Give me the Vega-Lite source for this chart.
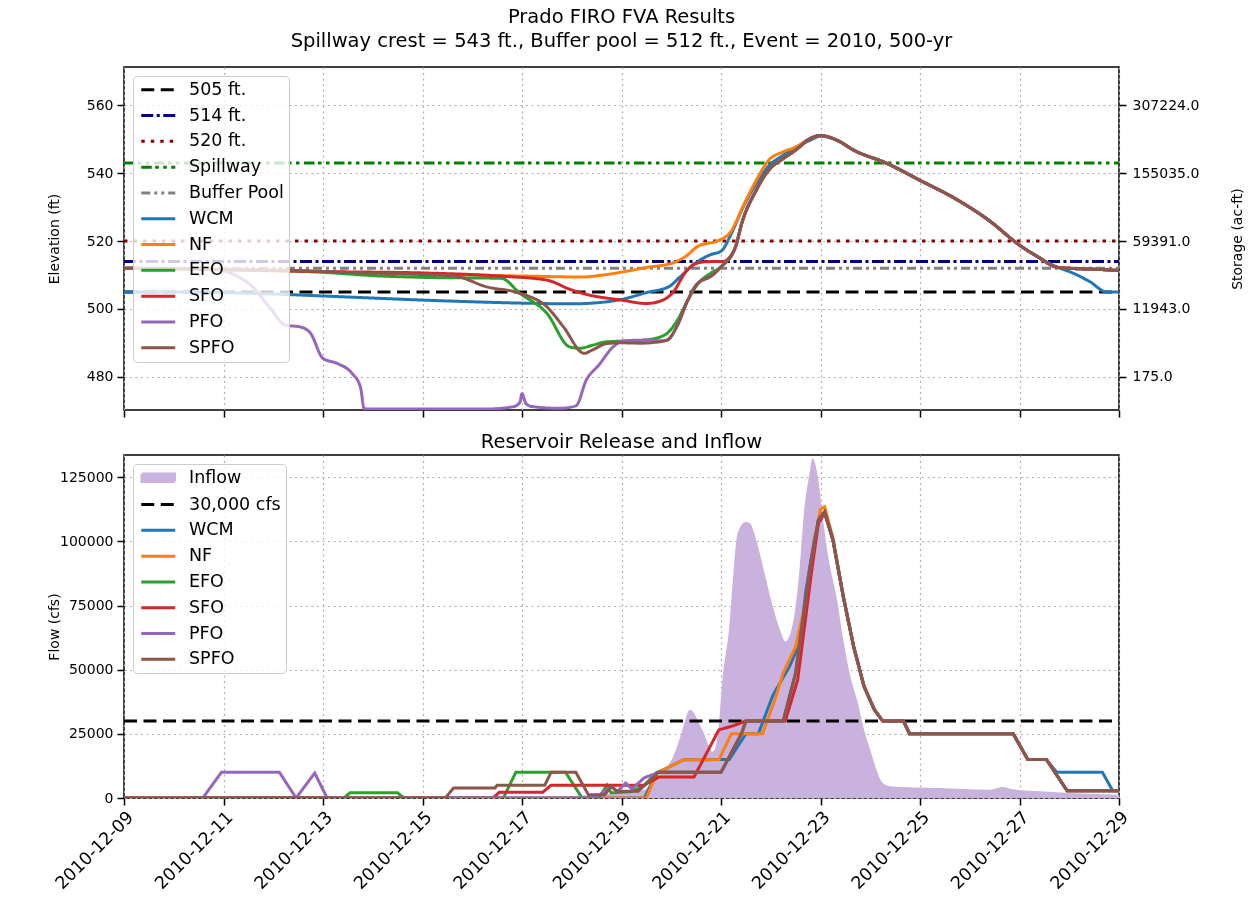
{
  "$schema": "https://vega.github.io/schema/vega-lite/v6.json",
  "background": "white",
  "padding": {"left": 46, "top": 5, "right": 5, "bottom": 5},
  "spacing": 11,
  "config": {
    "font": "DejaVu Sans",
    "view": {"stroke": "#000000", "strokeWidth": 1.5},
    "axis": {"labelFont": "DejaVu Sans", "titleFont": "DejaVu Sans", "labelFontSize": 14, "titleFontSize": 14, "titleFontWeight": "normal", "labelColor": "#000000", "titleColor": "#000000", "tickColor": "#000000", "tickSize": 7, "tickWidth": 1.5, "labelPadding": 4, "domain": false, "gridColor": "#b0b0b0", "gridDash": [2, 3.5], "gridWidth": 1.2},
    "title": {"font": "DejaVu Sans", "fontSize": 19.5, "fontWeight": "normal", "color": "#000000"},
    "legend": {"orient": "top-left", "offset": 9, "padding": 5, "fillColor": "rgba(255,255,255,0.8)", "strokeColor": "#cccccc", "cornerRadius": 4, "labelFont": "DejaVu Sans", "labelFontSize": 17.5, "labelColor": "#000000", "symbolType": "M-3.4,0H3.4", "symbolSize": 100, "symbolStrokeWidth": 3, "symbolOffset": 11.5, "labelOffset": 22, "rowPadding": 6.8}
  },
  "resolve": {"scale": {"color": "independent", "strokeDash": "independent"}, "legend": {"color": "independent", "strokeDash": "independent"}},
  "datasets": {
    "elev": [
      {"series": "505 ft.", "t": "2010-12-09T00:00", "v": 505}, {"series": "505 ft.", "t": "2010-12-29T00:00", "v": 505},
      {"series": "514 ft.", "t": "2010-12-09T00:00", "v": 514}, {"series": "514 ft.", "t": "2010-12-29T00:00", "v": 514},
      {"series": "520 ft.", "t": "2010-12-09T00:00", "v": 520}, {"series": "520 ft.", "t": "2010-12-29T00:00", "v": 520},
      {"series": "Spillway", "t": "2010-12-09T00:00", "v": 543}, {"series": "Spillway", "t": "2010-12-29T00:00", "v": 543},
      {"series": "Buffer Pool", "t": "2010-12-09T00:00", "v": 512}, {"series": "Buffer Pool", "t": "2010-12-29T00:00", "v": 512},

      {"series": "WCM", "t": "2010-12-09T00:00", "v": 505.0},
      {"series": "WCM", "t": "2010-12-10T00:00", "v": 505.0},
      {"series": "WCM", "t": "2010-12-11T00:00", "v": 504.8},
      {"series": "WCM", "t": "2010-12-12T00:00", "v": 504.4},
      {"series": "WCM", "t": "2010-12-13T00:00", "v": 503.8},
      {"series": "WCM", "t": "2010-12-14T00:00", "v": 503.2},
      {"series": "WCM", "t": "2010-12-15T00:00", "v": 502.6},
      {"series": "WCM", "t": "2010-12-16T00:00", "v": 502.1},
      {"series": "WCM", "t": "2010-12-17T00:00", "v": 501.7},
      {"series": "WCM", "t": "2010-12-18T00:00", "v": 501.5},
      {"series": "WCM", "t": "2010-12-18T12:00", "v": 501.8},
      {"series": "WCM", "t": "2010-12-19T00:00", "v": 502.8},
      {"series": "WCM", "t": "2010-12-19T12:00", "v": 504.8},
      {"series": "WCM", "t": "2010-12-19T23:00", "v": 506.6},
      {"series": "WCM", "t": "2010-12-20T04:00", "v": 509.3},
      {"series": "WCM", "t": "2010-12-20T11:00", "v": 513.2},
      {"series": "WCM", "t": "2010-12-20T19:00", "v": 516.0},
      {"series": "WCM", "t": "2010-12-21T00:00", "v": 517.0},
      {"series": "WCM", "t": "2010-12-21T05:00", "v": 522.2},
      {"series": "WCM", "t": "2010-12-21T10:00", "v": 529.1},
      {"series": "WCM", "t": "2010-12-21T17:00", "v": 537.0},
      {"series": "WCM", "t": "2010-12-21T23:00", "v": 542.1},
      {"series": "WCM", "t": "2010-12-22T06:00", "v": 545.3},
      {"series": "WCM", "t": "2010-12-22T12:00", "v": 547.6},
      {"series": "WCM", "t": "2010-12-22T19:00", "v": 549.7},
      {"series": "WCM", "t": "2010-12-23T00:00", "v": 550.9},
      {"series": "WCM", "t": "2010-12-23T08:00", "v": 549.7},
      {"series": "WCM", "t": "2010-12-23T16:00", "v": 546.8},
      {"series": "WCM", "t": "2010-12-24T08:00", "v": 542.9},
      {"series": "WCM", "t": "2010-12-25T00:00", "v": 537.9},
      {"series": "WCM", "t": "2010-12-25T17:00", "v": 532.5},
      {"series": "WCM", "t": "2010-12-26T09:00", "v": 526.2},
      {"series": "WCM", "t": "2010-12-27T00:00", "v": 518.8},
      {"series": "WCM", "t": "2010-12-27T09:00", "v": 515.3},
      {"series": "WCM", "t": "2010-12-27T18:00", "v": 512.4},
      {"series": "WCM", "t": "2010-12-28T02:00", "v": 510.5},
      {"series": "WCM", "t": "2010-12-28T10:00", "v": 508.0},
      {"series": "WCM", "t": "2010-12-28T18:00", "v": 505.0},
      {"series": "WCM", "t": "2010-12-29T00:00", "v": 505.0},

      {"series": "NF", "t": "2010-12-09T00:00", "v": 512.0},
      {"series": "NF", "t": "2010-12-11T00:00", "v": 511.5},
      {"series": "NF", "t": "2010-12-13T00:00", "v": 510.9},
      {"series": "NF", "t": "2010-12-15T00:00", "v": 510.3},
      {"series": "NF", "t": "2010-12-17T00:00", "v": 509.7},
      {"series": "NF", "t": "2010-12-18T05:00", "v": 509.4},
      {"series": "NF", "t": "2010-12-18T14:00", "v": 509.9},
      {"series": "NF", "t": "2010-12-19T06:00", "v": 511.5},
      {"series": "NF", "t": "2010-12-19T12:00", "v": 512.2},
      {"series": "NF", "t": "2010-12-20T01:00", "v": 513.6},
      {"series": "NF", "t": "2010-12-20T07:00", "v": 515.5},
      {"series": "NF", "t": "2010-12-20T13:00", "v": 518.5},
      {"series": "NF", "t": "2010-12-20T23:00", "v": 520.2},
      {"series": "NF", "t": "2010-12-21T04:00", "v": 522.2},
      {"series": "NF", "t": "2010-12-21T12:00", "v": 532.0},
      {"series": "NF", "t": "2010-12-21T17:00", "v": 537.9},
      {"series": "NF", "t": "2010-12-21T23:00", "v": 543.8},
      {"series": "NF", "t": "2010-12-22T06:00", "v": 546.3},
      {"series": "NF", "t": "2010-12-22T12:00", "v": 547.7},
      {"series": "NF", "t": "2010-12-22T19:00", "v": 550.2},
      {"series": "NF", "t": "2010-12-23T00:00", "v": 551.1},
      {"series": "NF", "t": "2010-12-23T08:00", "v": 549.7},
      {"series": "NF", "t": "2010-12-23T16:00", "v": 546.8},
      {"series": "NF", "t": "2010-12-24T08:00", "v": 542.9},
      {"series": "NF", "t": "2010-12-25T00:00", "v": 537.9},
      {"series": "NF", "t": "2010-12-25T17:00", "v": 532.5},
      {"series": "NF", "t": "2010-12-26T09:00", "v": 526.2},
      {"series": "NF", "t": "2010-12-27T00:00", "v": 518.8},
      {"series": "NF", "t": "2010-12-27T09:00", "v": 515.3},
      {"series": "NF", "t": "2010-12-27T18:00", "v": 512.3},
      {"series": "NF", "t": "2010-12-28T02:00", "v": 511.9},
      {"series": "NF", "t": "2010-12-28T12:00", "v": 511.7},
      {"series": "NF", "t": "2010-12-29T00:00", "v": 511.3},

      {"series": "EFO", "t": "2010-12-09T00:00", "v": 512.0},
      {"series": "EFO", "t": "2010-12-11T00:00", "v": 511.6},
      {"series": "EFO", "t": "2010-12-13T00:00", "v": 510.8},
      {"series": "EFO", "t": "2010-12-14T00:00", "v": 509.8},
      {"series": "EFO", "t": "2010-12-15T00:00", "v": 509.3},
      {"series": "EFO", "t": "2010-12-16T14:00", "v": 509.0},
      {"series": "EFO", "t": "2010-12-16T23:00", "v": 504.6},
      {"series": "EFO", "t": "2010-12-17T12:00", "v": 498.7},
      {"series": "EFO", "t": "2010-12-17T23:00", "v": 488.8},
      {"series": "EFO", "t": "2010-12-18T04:00", "v": 488.4},
      {"series": "EFO", "t": "2010-12-18T10:00", "v": 489.3},
      {"series": "EFO", "t": "2010-12-18T17:00", "v": 490.3},
      {"series": "EFO", "t": "2010-12-19T06:00", "v": 490.6},
      {"series": "EFO", "t": "2010-12-19T11:00", "v": 490.8},
      {"series": "EFO", "t": "2010-12-19T19:00", "v": 491.8},
      {"series": "EFO", "t": "2010-12-19T22:00", "v": 492.8},
      {"series": "EFO", "t": "2010-12-20T03:00", "v": 496.7},
      {"series": "EFO", "t": "2010-12-20T08:00", "v": 502.6},
      {"series": "EFO", "t": "2010-12-20T13:00", "v": 507.5},
      {"series": "EFO", "t": "2010-12-20T19:00", "v": 510.5},
      {"series": "EFO", "t": "2010-12-21T00:00", "v": 512.4},
      {"series": "EFO", "t": "2010-12-21T07:00", "v": 518.3},
      {"series": "EFO", "t": "2010-12-21T10:00", "v": 525.2},
      {"series": "EFO", "t": "2010-12-21T17:00", "v": 535.0},
      {"series": "EFO", "t": "2010-12-21T23:00", "v": 540.9},
      {"series": "EFO", "t": "2010-12-22T06:00", "v": 544.3},
      {"series": "EFO", "t": "2010-12-22T12:00", "v": 546.8},
      {"series": "EFO", "t": "2010-12-22T19:00", "v": 550.2},
      {"series": "EFO", "t": "2010-12-23T00:00", "v": 551.1},
      {"series": "EFO", "t": "2010-12-23T08:00", "v": 549.7},
      {"series": "EFO", "t": "2010-12-23T16:00", "v": 546.8},
      {"series": "EFO", "t": "2010-12-24T08:00", "v": 542.9},
      {"series": "EFO", "t": "2010-12-25T00:00", "v": 537.9},
      {"series": "EFO", "t": "2010-12-25T17:00", "v": 532.5},
      {"series": "EFO", "t": "2010-12-26T09:00", "v": 526.2},
      {"series": "EFO", "t": "2010-12-27T00:00", "v": 518.8},
      {"series": "EFO", "t": "2010-12-27T09:00", "v": 515.3},
      {"series": "EFO", "t": "2010-12-27T18:00", "v": 512.3},
      {"series": "EFO", "t": "2010-12-28T02:00", "v": 511.9},
      {"series": "EFO", "t": "2010-12-28T12:00", "v": 511.7},
      {"series": "EFO", "t": "2010-12-29T00:00", "v": 511.3},

      {"series": "SFO", "t": "2010-12-09T00:00", "v": 512.0},
      {"series": "SFO", "t": "2010-12-11T00:00", "v": 511.6},
      {"series": "SFO", "t": "2010-12-13T00:00", "v": 511.0},
      {"series": "SFO", "t": "2010-12-15T00:00", "v": 510.6},
      {"series": "SFO", "t": "2010-12-16T15:00", "v": 509.6},
      {"series": "SFO", "t": "2010-12-17T12:00", "v": 508.5},
      {"series": "SFO", "t": "2010-12-17T23:00", "v": 505.8},
      {"series": "SFO", "t": "2010-12-18T07:00", "v": 504.3},
      {"series": "SFO", "t": "2010-12-19T00:00", "v": 502.6},
      {"series": "SFO", "t": "2010-12-19T12:00", "v": 501.6},
      {"series": "SFO", "t": "2010-12-19T20:00", "v": 502.6},
      {"series": "SFO", "t": "2010-12-20T01:00", "v": 505.0},
      {"series": "SFO", "t": "2010-12-20T07:00", "v": 510.9},
      {"series": "SFO", "t": "2010-12-20T12:00", "v": 513.4},
      {"series": "SFO", "t": "2010-12-20T17:00", "v": 513.9},
      {"series": "SFO", "t": "2010-12-21T01:00", "v": 514.0},
      {"series": "SFO", "t": "2010-12-21T07:00", "v": 518.3},
      {"series": "SFO", "t": "2010-12-21T10:00", "v": 525.2},
      {"series": "SFO", "t": "2010-12-21T17:00", "v": 535.0},
      {"series": "SFO", "t": "2010-12-21T23:00", "v": 540.9},
      {"series": "SFO", "t": "2010-12-22T06:00", "v": 544.3},
      {"series": "SFO", "t": "2010-12-22T12:00", "v": 546.8},
      {"series": "SFO", "t": "2010-12-22T19:00", "v": 550.2},
      {"series": "SFO", "t": "2010-12-23T00:00", "v": 551.1},
      {"series": "SFO", "t": "2010-12-23T08:00", "v": 549.7},
      {"series": "SFO", "t": "2010-12-23T16:00", "v": 546.8},
      {"series": "SFO", "t": "2010-12-24T08:00", "v": 542.9},
      {"series": "SFO", "t": "2010-12-25T00:00", "v": 537.9},
      {"series": "SFO", "t": "2010-12-25T17:00", "v": 532.5},
      {"series": "SFO", "t": "2010-12-26T09:00", "v": 526.2},
      {"series": "SFO", "t": "2010-12-27T00:00", "v": 518.8},
      {"series": "SFO", "t": "2010-12-27T09:00", "v": 515.3},
      {"series": "SFO", "t": "2010-12-27T18:00", "v": 512.3},
      {"series": "SFO", "t": "2010-12-28T02:00", "v": 511.9},
      {"series": "SFO", "t": "2010-12-28T12:00", "v": 511.7},
      {"series": "SFO", "t": "2010-12-29T00:00", "v": 511.3},

      {"series": "PFO", "t": "2010-12-09T00:00", "v": 512.0},
      {"series": "PFO", "t": "2010-12-10T12:00", "v": 511.9},
      {"series": "PFO", "t": "2010-12-10T22:00", "v": 511.5},
      {"series": "PFO", "t": "2010-12-11T07:00", "v": 509.5},
      {"series": "PFO", "t": "2010-12-11T14:00", "v": 506.5},
      {"series": "PFO", "t": "2010-12-11T22:00", "v": 500.6},
      {"series": "PFO", "t": "2010-12-12T06:00", "v": 495.2},
      {"series": "PFO", "t": "2010-12-12T13:00", "v": 494.7},
      {"series": "PFO", "t": "2010-12-12T18:00", "v": 492.8},
      {"series": "PFO", "t": "2010-12-13T00:00", "v": 485.4},
      {"series": "PFO", "t": "2010-12-13T07:00", "v": 483.9},
      {"series": "PFO", "t": "2010-12-13T14:00", "v": 481.0},
      {"series": "PFO", "t": "2010-12-13T18:00", "v": 477.1},
      {"series": "PFO", "t": "2010-12-13T20:00", "v": 470.5},
      {"series": "PFO", "t": "2010-12-16T07:00", "v": 470.5},
      {"series": "PFO", "t": "2010-12-16T20:00", "v": 471.2},
      {"series": "PFO", "t": "2010-12-16T23:00", "v": 472.5},
      {"series": "PFO", "t": "2010-12-17T00:00", "v": 475.0},
      {"series": "PFO", "t": "2010-12-17T02:00", "v": 472.0},
      {"series": "PFO", "t": "2010-12-17T05:00", "v": 471.2},
      {"series": "PFO", "t": "2010-12-17T18:00", "v": 470.7},
      {"series": "PFO", "t": "2010-12-18T02:00", "v": 471.4},
      {"series": "PFO", "t": "2010-12-18T07:00", "v": 479.0},
      {"series": "PFO", "t": "2010-12-18T13:00", "v": 483.4},
      {"series": "PFO", "t": "2010-12-18T20:00", "v": 488.8},
      {"series": "PFO", "t": "2010-12-19T01:00", "v": 490.6},
      {"series": "PFO", "t": "2010-12-19T12:00", "v": 490.8},
      {"series": "PFO", "t": "2010-12-19T19:00", "v": 490.6},
      {"series": "PFO", "t": "2010-12-19T22:00", "v": 490.8},
      {"series": "PFO", "t": "2010-12-20T03:00", "v": 495.2},
      {"series": "PFO", "t": "2010-12-20T08:00", "v": 502.6},
      {"series": "PFO", "t": "2010-12-20T12:00", "v": 507.0},
      {"series": "PFO", "t": "2010-12-20T20:00", "v": 510.0},
      {"series": "PFO", "t": "2010-12-21T00:00", "v": 512.4},
      {"series": "PFO", "t": "2010-12-21T07:00", "v": 518.3},
      {"series": "PFO", "t": "2010-12-21T10:00", "v": 525.2},
      {"series": "PFO", "t": "2010-12-21T17:00", "v": 535.0},
      {"series": "PFO", "t": "2010-12-21T23:00", "v": 540.9},
      {"series": "PFO", "t": "2010-12-22T06:00", "v": 544.3},
      {"series": "PFO", "t": "2010-12-22T12:00", "v": 546.8},
      {"series": "PFO", "t": "2010-12-22T19:00", "v": 550.2},
      {"series": "PFO", "t": "2010-12-23T00:00", "v": 551.1},
      {"series": "PFO", "t": "2010-12-23T08:00", "v": 549.7},
      {"series": "PFO", "t": "2010-12-23T16:00", "v": 546.8},
      {"series": "PFO", "t": "2010-12-24T08:00", "v": 542.9},
      {"series": "PFO", "t": "2010-12-25T00:00", "v": 537.9},
      {"series": "PFO", "t": "2010-12-25T17:00", "v": 532.5},
      {"series": "PFO", "t": "2010-12-26T09:00", "v": 526.2},
      {"series": "PFO", "t": "2010-12-27T00:00", "v": 518.8},
      {"series": "PFO", "t": "2010-12-27T09:00", "v": 515.3},
      {"series": "PFO", "t": "2010-12-27T18:00", "v": 512.3},
      {"series": "PFO", "t": "2010-12-28T02:00", "v": 511.9},
      {"series": "PFO", "t": "2010-12-28T12:00", "v": 511.7},
      {"series": "PFO", "t": "2010-12-29T00:00", "v": 511.3},

      {"series": "SPFO", "t": "2010-12-09T00:00", "v": 512.0},
      {"series": "SPFO", "t": "2010-12-11T00:00", "v": 511.6},
      {"series": "SPFO", "t": "2010-12-12T07:00", "v": 511.4},
      {"series": "SPFO", "t": "2010-12-13T14:00", "v": 510.7},
      {"series": "SPFO", "t": "2010-12-15T15:00", "v": 509.7},
      {"series": "SPFO", "t": "2010-12-16T07:00", "v": 506.5},
      {"series": "SPFO", "t": "2010-12-16T23:00", "v": 504.6},
      {"series": "SPFO", "t": "2010-12-17T12:00", "v": 500.6},
      {"series": "SPFO", "t": "2010-12-17T20:00", "v": 494.7},
      {"series": "SPFO", "t": "2010-12-18T06:00", "v": 486.9},
      {"series": "SPFO", "t": "2010-12-18T10:00", "v": 487.9},
      {"series": "SPFO", "t": "2010-12-18T17:00", "v": 489.8},
      {"series": "SPFO", "t": "2010-12-19T00:00", "v": 490.0},
      {"series": "SPFO", "t": "2010-12-19T09:00", "v": 489.9},
      {"series": "SPFO", "t": "2010-12-19T17:00", "v": 490.2},
      {"series": "SPFO", "t": "2010-12-19T22:00", "v": 490.8},
      {"series": "SPFO", "t": "2010-12-20T03:00", "v": 495.2},
      {"series": "SPFO", "t": "2010-12-20T08:00", "v": 502.6},
      {"series": "SPFO", "t": "2010-12-20T12:00", "v": 507.0},
      {"series": "SPFO", "t": "2010-12-20T20:00", "v": 510.0},
      {"series": "SPFO", "t": "2010-12-21T00:00", "v": 512.4},
      {"series": "SPFO", "t": "2010-12-21T07:00", "v": 518.3},
      {"series": "SPFO", "t": "2010-12-21T10:00", "v": 525.2},
      {"series": "SPFO", "t": "2010-12-21T17:00", "v": 535.0},
      {"series": "SPFO", "t": "2010-12-21T23:00", "v": 540.9},
      {"series": "SPFO", "t": "2010-12-22T06:00", "v": 544.3},
      {"series": "SPFO", "t": "2010-12-22T12:00", "v": 546.8},
      {"series": "SPFO", "t": "2010-12-22T19:00", "v": 550.2},
      {"series": "SPFO", "t": "2010-12-23T00:00", "v": 551.1},
      {"series": "SPFO", "t": "2010-12-23T08:00", "v": 549.7},
      {"series": "SPFO", "t": "2010-12-23T16:00", "v": 546.8},
      {"series": "SPFO", "t": "2010-12-24T08:00", "v": 542.9},
      {"series": "SPFO", "t": "2010-12-25T00:00", "v": 537.9},
      {"series": "SPFO", "t": "2010-12-25T17:00", "v": 532.5},
      {"series": "SPFO", "t": "2010-12-26T09:00", "v": 526.2},
      {"series": "SPFO", "t": "2010-12-27T00:00", "v": 518.8},
      {"series": "SPFO", "t": "2010-12-27T09:00", "v": 515.3},
      {"series": "SPFO", "t": "2010-12-27T18:00", "v": 512.3},
      {"series": "SPFO", "t": "2010-12-28T02:00", "v": 511.9},
      {"series": "SPFO", "t": "2010-12-28T12:00", "v": 511.7},
      {"series": "SPFO", "t": "2010-12-29T00:00", "v": 511.3}
    ],
    "inflow": [
      {"t": "2010-12-09T00:00", "v": 200}, {"t": "2010-12-17T00:00", "v": 300}, {"t": "2010-12-18T00:00", "v": 800},
      {"t": "2010-12-18T12:00", "v": 1200}, {"t": "2010-12-19T00:00", "v": 2000}, {"t": "2010-12-19T11:00", "v": 3200},
      {"t": "2010-12-19T19:00", "v": 9700}, {"t": "2010-12-20T01:00", "v": 16200}, {"t": "2010-12-20T05:00", "v": 25300},
      {"t": "2010-12-20T09:00", "v": 34400}, {"t": "2010-12-20T15:00", "v": 26600}, {"t": "2010-12-20T20:00", "v": 18100},
      {"t": "2010-12-20T22:00", "v": 22000}, {"t": "2010-12-21T01:00", "v": 48700}, {"t": "2010-12-21T04:00", "v": 66800},
      {"t": "2010-12-21T06:00", "v": 87600}, {"t": "2010-12-21T08:00", "v": 103200}, {"t": "2010-12-21T12:00", "v": 107700},
      {"t": "2010-12-21T14:00", "v": 107100}, {"t": "2010-12-21T17:00", "v": 100600}, {"t": "2010-12-21T21:00", "v": 87600},
      {"t": "2010-12-22T01:00", "v": 74600}, {"t": "2010-12-22T05:00", "v": 64300}, {"t": "2010-12-22T07:00", "v": 61000},
      {"t": "2010-12-22T11:00", "v": 69400}, {"t": "2010-12-22T14:00", "v": 90200}, {"t": "2010-12-22T16:00", "v": 111000},
      {"t": "2010-12-22T19:00", "v": 127800}, {"t": "2010-12-22T20:00", "v": 132400}, {"t": "2010-12-22T23:00", "v": 123900},
      {"t": "2010-12-23T01:00", "v": 109700}, {"t": "2010-12-23T04:00", "v": 92800}, {"t": "2010-12-23T08:00", "v": 77200},
      {"t": "2010-12-23T11:00", "v": 61600}, {"t": "2010-12-23T14:00", "v": 48700}, {"t": "2010-12-23T18:00", "v": 37000},
      {"t": "2010-12-23T21:00", "v": 26600}, {"t": "2010-12-24T00:00", "v": 18800}, {"t": "2010-12-24T03:00", "v": 11000},
      {"t": "2010-12-24T06:00", "v": 5800}, {"t": "2010-12-24T10:00", "v": 4500}, {"t": "2010-12-25T09:00", "v": 3900},
      {"t": "2010-12-26T09:00", "v": 3200}, {"t": "2010-12-26T16:00", "v": 4300}, {"t": "2010-12-26T20:00", "v": 3500},
      {"t": "2010-12-27T10:00", "v": 2600}, {"t": "2010-12-28T02:00", "v": 1900}, {"t": "2010-12-29T00:00", "v": 1300}
    ],
    "flow": [
      {"series": "30,000 cfs", "t": "2010-12-09T00:00", "v": 30000}, {"series": "30,000 cfs", "t": "2010-12-29T00:00", "v": 30000},

      {"series": "WCM", "t": "2010-12-09T00:00", "v": 0},
      {"series": "WCM", "t": "2010-12-19T11:00", "v": 0},
      {"series": "WCM", "t": "2010-12-19T17:00", "v": 9700},
      {"series": "WCM", "t": "2010-12-20T06:00", "v": 14900},
      {"series": "WCM", "t": "2010-12-21T04:00", "v": 15000},
      {"series": "WCM", "t": "2010-12-21T12:00", "v": 25000},
      {"series": "WCM", "t": "2010-12-21T18:00", "v": 25000},
      {"series": "WCM", "t": "2010-12-22T01:00", "v": 40000},
      {"series": "WCM", "t": "2010-12-22T09:00", "v": 51200},
      {"series": "WCM", "t": "2010-12-22T14:00", "v": 60300},
      {"series": "WCM", "t": "2010-12-22T17:00", "v": 81100},
      {"series": "WCM", "t": "2010-12-22T21:00", "v": 100600},
      {"series": "WCM", "t": "2010-12-23T00:00", "v": 110500},
      {"series": "WCM", "t": "2010-12-23T02:00", "v": 111000},
      {"series": "WCM", "t": "2010-12-23T06:00", "v": 100600},
      {"series": "WCM", "t": "2010-12-23T11:00", "v": 78500},
      {"series": "WCM", "t": "2010-12-23T16:00", "v": 59000},
      {"series": "WCM", "t": "2010-12-23T21:00", "v": 43500},
      {"series": "WCM", "t": "2010-12-24T02:00", "v": 34400},
      {"series": "WCM", "t": "2010-12-24T06:00", "v": 30000},
      {"series": "WCM", "t": "2010-12-24T16:00", "v": 30000},
      {"series": "WCM", "t": "2010-12-24T19:00", "v": 25000},
      {"series": "WCM", "t": "2010-12-26T21:00", "v": 25000},
      {"series": "WCM", "t": "2010-12-27T04:00", "v": 15000},
      {"series": "WCM", "t": "2010-12-27T13:00", "v": 15000},
      {"series": "WCM", "t": "2010-12-27T18:00", "v": 10000},
      {"series": "WCM", "t": "2010-12-28T16:00", "v": 10000},
      {"series": "WCM", "t": "2010-12-28T21:00", "v": 2800},
      {"series": "WCM", "t": "2010-12-29T00:00", "v": 2800},

      {"series": "NF", "t": "2010-12-09T00:00", "v": 0},
      {"series": "NF", "t": "2010-12-19T12:00", "v": 0},
      {"series": "NF", "t": "2010-12-19T17:00", "v": 9700},
      {"series": "NF", "t": "2010-12-20T06:00", "v": 14900},
      {"series": "NF", "t": "2010-12-20T23:00", "v": 14900},
      {"series": "NF", "t": "2010-12-21T05:00", "v": 25000},
      {"series": "NF", "t": "2010-12-21T20:00", "v": 25000},
      {"series": "NF", "t": "2010-12-22T02:00", "v": 38300},
      {"series": "NF", "t": "2010-12-22T06:00", "v": 48700},
      {"series": "NF", "t": "2010-12-22T12:00", "v": 59000},
      {"series": "NF", "t": "2010-12-22T17:00", "v": 77200},
      {"series": "NF", "t": "2010-12-22T21:00", "v": 100600},
      {"series": "NF", "t": "2010-12-23T00:00", "v": 112500},
      {"series": "NF", "t": "2010-12-23T02:00", "v": 113500},
      {"series": "NF", "t": "2010-12-23T06:00", "v": 101500},
      {"series": "NF", "t": "2010-12-23T11:00", "v": 78500},
      {"series": "NF", "t": "2010-12-23T16:00", "v": 59000},
      {"series": "NF", "t": "2010-12-23T21:00", "v": 43500},
      {"series": "NF", "t": "2010-12-24T02:00", "v": 34400},
      {"series": "NF", "t": "2010-12-24T06:00", "v": 30000},
      {"series": "NF", "t": "2010-12-24T16:00", "v": 30000},
      {"series": "NF", "t": "2010-12-24T19:00", "v": 25000},
      {"series": "NF", "t": "2010-12-26T21:00", "v": 25000},
      {"series": "NF", "t": "2010-12-27T04:00", "v": 15000},
      {"series": "NF", "t": "2010-12-27T13:00", "v": 15000},
      {"series": "NF", "t": "2010-12-27T23:00", "v": 2800},
      {"series": "NF", "t": "2010-12-29T00:00", "v": 2800},

      {"series": "EFO", "t": "2010-12-09T00:00", "v": 0},
      {"series": "EFO", "t": "2010-12-13T10:00", "v": 0},
      {"series": "EFO", "t": "2010-12-13T13:00", "v": 2000},
      {"series": "EFO", "t": "2010-12-14T12:00", "v": 2000},
      {"series": "EFO", "t": "2010-12-14T15:00", "v": 0},
      {"series": "EFO", "t": "2010-12-16T15:00", "v": 0},
      {"series": "EFO", "t": "2010-12-16T21:00", "v": 10000},
      {"series": "EFO", "t": "2010-12-17T21:00", "v": 10000},
      {"series": "EFO", "t": "2010-12-18T05:00", "v": 0},
      {"series": "EFO", "t": "2010-12-18T13:00", "v": 0},
      {"series": "EFO", "t": "2010-12-18T17:00", "v": 5000},
      {"series": "EFO", "t": "2010-12-18T19:00", "v": 2000},
      {"series": "EFO", "t": "2010-12-19T05:00", "v": 2500},
      {"series": "EFO", "t": "2010-12-19T11:00", "v": 5000},
      {"series": "EFO", "t": "2010-12-19T17:00", "v": 10000},
      {"series": "EFO", "t": "2010-12-21T00:00", "v": 10000},
      {"series": "EFO", "t": "2010-12-21T10:00", "v": 25300},
      {"series": "EFO", "t": "2010-12-21T12:00", "v": 30000},
      {"series": "EFO", "t": "2010-12-22T06:00", "v": 30000},
      {"series": "EFO", "t": "2010-12-22T12:00", "v": 48700},
      {"series": "EFO", "t": "2010-12-22T15:00", "v": 66800},
      {"series": "EFO", "t": "2010-12-22T19:00", "v": 90200},
      {"series": "EFO", "t": "2010-12-22T23:00", "v": 108400},
      {"series": "EFO", "t": "2010-12-23T02:00", "v": 111600},
      {"series": "EFO", "t": "2010-12-23T06:00", "v": 100600},
      {"series": "EFO", "t": "2010-12-23T11:00", "v": 78500},
      {"series": "EFO", "t": "2010-12-23T16:00", "v": 59000},
      {"series": "EFO", "t": "2010-12-23T21:00", "v": 43500},
      {"series": "EFO", "t": "2010-12-24T02:00", "v": 34400},
      {"series": "EFO", "t": "2010-12-24T06:00", "v": 30000},
      {"series": "EFO", "t": "2010-12-24T16:00", "v": 30000},
      {"series": "EFO", "t": "2010-12-24T19:00", "v": 25000},
      {"series": "EFO", "t": "2010-12-26T21:00", "v": 25000},
      {"series": "EFO", "t": "2010-12-27T04:00", "v": 15000},
      {"series": "EFO", "t": "2010-12-27T13:00", "v": 15000},
      {"series": "EFO", "t": "2010-12-27T23:00", "v": 2800},
      {"series": "EFO", "t": "2010-12-29T00:00", "v": 2800},

      {"series": "SFO", "t": "2010-12-09T00:00", "v": 0},
      {"series": "SFO", "t": "2010-12-16T10:00", "v": 0},
      {"series": "SFO", "t": "2010-12-16T13:00", "v": 2200},
      {"series": "SFO", "t": "2010-12-17T10:00", "v": 2200},
      {"series": "SFO", "t": "2010-12-17T14:00", "v": 5000},
      {"series": "SFO", "t": "2010-12-19T11:00", "v": 5000},
      {"series": "SFO", "t": "2010-12-19T18:00", "v": 8200},
      {"series": "SFO", "t": "2010-12-20T11:00", "v": 8200},
      {"series": "SFO", "t": "2010-12-20T23:00", "v": 26600},
      {"series": "SFO", "t": "2010-12-21T05:00", "v": 27900},
      {"series": "SFO", "t": "2010-12-21T12:00", "v": 30000},
      {"series": "SFO", "t": "2010-12-22T07:00", "v": 30000},
      {"series": "SFO", "t": "2010-12-22T13:00", "v": 46000},
      {"series": "SFO", "t": "2010-12-22T16:00", "v": 65000},
      {"series": "SFO", "t": "2010-12-22T20:00", "v": 90000},
      {"series": "SFO", "t": "2010-12-22T23:00", "v": 107000},
      {"series": "SFO", "t": "2010-12-23T02:00", "v": 111000},
      {"series": "SFO", "t": "2010-12-23T06:00", "v": 100600},
      {"series": "SFO", "t": "2010-12-23T11:00", "v": 78500},
      {"series": "SFO", "t": "2010-12-23T16:00", "v": 59000},
      {"series": "SFO", "t": "2010-12-23T21:00", "v": 43500},
      {"series": "SFO", "t": "2010-12-24T02:00", "v": 34400},
      {"series": "SFO", "t": "2010-12-24T06:00", "v": 30000},
      {"series": "SFO", "t": "2010-12-24T16:00", "v": 30000},
      {"series": "SFO", "t": "2010-12-24T19:00", "v": 25000},
      {"series": "SFO", "t": "2010-12-26T21:00", "v": 25000},
      {"series": "SFO", "t": "2010-12-27T04:00", "v": 15000},
      {"series": "SFO", "t": "2010-12-27T13:00", "v": 15000},
      {"series": "SFO", "t": "2010-12-27T23:00", "v": 2800},
      {"series": "SFO", "t": "2010-12-29T00:00", "v": 2800},

      {"series": "PFO", "t": "2010-12-09T00:00", "v": 0},
      {"series": "PFO", "t": "2010-12-10T14:00", "v": 0},
      {"series": "PFO", "t": "2010-12-10T23:00", "v": 10000},
      {"series": "PFO", "t": "2010-12-12T03:00", "v": 10000},
      {"series": "PFO", "t": "2010-12-12T11:00", "v": 0},
      {"series": "PFO", "t": "2010-12-12T20:00", "v": 9700},
      {"series": "PFO", "t": "2010-12-13T02:00", "v": 0},
      {"series": "PFO", "t": "2010-12-18T10:00", "v": 0},
      {"series": "PFO", "t": "2010-12-18T14:00", "v": 1500},
      {"series": "PFO", "t": "2010-12-18T19:00", "v": 4500},
      {"series": "PFO", "t": "2010-12-18T22:00", "v": 2500},
      {"series": "PFO", "t": "2010-12-19T02:00", "v": 5800},
      {"series": "PFO", "t": "2010-12-19T05:00", "v": 3500},
      {"series": "PFO", "t": "2010-12-19T11:00", "v": 7900},
      {"series": "PFO", "t": "2010-12-19T18:00", "v": 10000},
      {"series": "PFO", "t": "2010-12-21T00:00", "v": 10000},
      {"series": "PFO", "t": "2010-12-21T10:00", "v": 25300},
      {"series": "PFO", "t": "2010-12-21T12:00", "v": 30000},
      {"series": "PFO", "t": "2010-12-22T06:00", "v": 30000},
      {"series": "PFO", "t": "2010-12-22T12:00", "v": 48700},
      {"series": "PFO", "t": "2010-12-22T15:00", "v": 66800},
      {"series": "PFO", "t": "2010-12-22T19:00", "v": 90200},
      {"series": "PFO", "t": "2010-12-22T23:00", "v": 108400},
      {"series": "PFO", "t": "2010-12-23T02:00", "v": 111600},
      {"series": "PFO", "t": "2010-12-23T06:00", "v": 100600},
      {"series": "PFO", "t": "2010-12-23T11:00", "v": 78500},
      {"series": "PFO", "t": "2010-12-23T16:00", "v": 59000},
      {"series": "PFO", "t": "2010-12-23T21:00", "v": 43500},
      {"series": "PFO", "t": "2010-12-24T02:00", "v": 34400},
      {"series": "PFO", "t": "2010-12-24T06:00", "v": 30000},
      {"series": "PFO", "t": "2010-12-24T16:00", "v": 30000},
      {"series": "PFO", "t": "2010-12-24T19:00", "v": 25000},
      {"series": "PFO", "t": "2010-12-26T21:00", "v": 25000},
      {"series": "PFO", "t": "2010-12-27T04:00", "v": 15000},
      {"series": "PFO", "t": "2010-12-27T13:00", "v": 15000},
      {"series": "PFO", "t": "2010-12-27T23:00", "v": 2800},
      {"series": "PFO", "t": "2010-12-29T00:00", "v": 2800},

      {"series": "SPFO", "t": "2010-12-09T00:00", "v": 0},
      {"series": "SPFO", "t": "2010-12-15T11:00", "v": 0},
      {"series": "SPFO", "t": "2010-12-15T15:00", "v": 3900},
      {"series": "SPFO", "t": "2010-12-16T11:00", "v": 3900},
      {"series": "SPFO", "t": "2010-12-16T12:00", "v": 5000},
      {"series": "SPFO", "t": "2010-12-17T11:00", "v": 5000},
      {"series": "SPFO", "t": "2010-12-17T14:00", "v": 10000},
      {"series": "SPFO", "t": "2010-12-18T02:00", "v": 10000},
      {"series": "SPFO", "t": "2010-12-18T08:00", "v": 1300},
      {"series": "SPFO", "t": "2010-12-18T16:00", "v": 1300},
      {"series": "SPFO", "t": "2010-12-18T19:00", "v": 4500},
      {"series": "SPFO", "t": "2010-12-18T22:00", "v": 2600},
      {"series": "SPFO", "t": "2010-12-19T08:00", "v": 2600},
      {"series": "SPFO", "t": "2010-12-19T18:00", "v": 10000},
      {"series": "SPFO", "t": "2010-12-21T00:00", "v": 10000},
      {"series": "SPFO", "t": "2010-12-21T10:00", "v": 25300},
      {"series": "SPFO", "t": "2010-12-21T12:00", "v": 30000},
      {"series": "SPFO", "t": "2010-12-22T06:00", "v": 30000},
      {"series": "SPFO", "t": "2010-12-22T12:00", "v": 48700},
      {"series": "SPFO", "t": "2010-12-22T15:00", "v": 66800},
      {"series": "SPFO", "t": "2010-12-22T19:00", "v": 90200},
      {"series": "SPFO", "t": "2010-12-22T23:00", "v": 108400},
      {"series": "SPFO", "t": "2010-12-23T02:00", "v": 111600},
      {"series": "SPFO", "t": "2010-12-23T06:00", "v": 100600},
      {"series": "SPFO", "t": "2010-12-23T11:00", "v": 78500},
      {"series": "SPFO", "t": "2010-12-23T16:00", "v": 59000},
      {"series": "SPFO", "t": "2010-12-23T21:00", "v": 43500},
      {"series": "SPFO", "t": "2010-12-24T02:00", "v": 34400},
      {"series": "SPFO", "t": "2010-12-24T06:00", "v": 30000},
      {"series": "SPFO", "t": "2010-12-24T16:00", "v": 30000},
      {"series": "SPFO", "t": "2010-12-24T19:00", "v": 25000},
      {"series": "SPFO", "t": "2010-12-26T21:00", "v": 25000},
      {"series": "SPFO", "t": "2010-12-27T04:00", "v": 15000},
      {"series": "SPFO", "t": "2010-12-27T13:00", "v": 15000},
      {"series": "SPFO", "t": "2010-12-27T23:00", "v": 2800},
      {"series": "SPFO", "t": "2010-12-29T00:00", "v": 2800}
    ]
  },
  "vconcat": [
    {
      "width": 995,
      "height": 343,
      "title": {"text": ["Prado FIRO FVA Results", "Spillway crest = 543 ft., Buffer pool = 512 ft., Event = 2010, 500-yr"], "lineHeight": 24, "offset": 16, "anchor": "middle"},
      "data": {"name": "elev"},
      "encoding": {
        "x": {"field": "t", "type": "temporal", "scale": {"domain": [{"year": 2010, "month": 12, "date": 9}, {"year": 2010, "month": 12, "date": 29}]}, "axis": {"title": null, "labels": false, "tickCount": {"interval": "day", "step": 2}, "grid": true}}
      },
      "layer": [
        {
          "mark": {"type": "line", "interpolate": "monotone", "strokeWidth": 3, "clip": true},
          "encoding": {
            "y": {"field": "v", "type": "quantitative", "scale": {"domain": [470.2, 571.3], "nice": false, "zero": false}, "axis": {"title": "Elevation (ft)", "values": [480, 500, 520, 540, 560], "grid": true, "titleX": -63}},
            "color": {"field": "series", "type": "nominal", "scale": {"domain": ["505 ft.", "514 ft.", "520 ft.", "Spillway", "Buffer Pool", "WCM", "NF", "EFO", "SFO", "PFO", "SPFO"], "range": ["#000000", "#000080", "#8b0000", "#008000", "#808080", "#1f77b4", "#ff7f0e", "#2ca02c", "#d62728", "#9467bd", "#8c564b"]}, "legend": {"title": null, "symbolType": "M-3.4,0H3.4"}},
            "strokeDash": {"field": "series", "type": "nominal", "scale": {"domain": ["505 ft.", "514 ft.", "520 ft.", "Spillway", "Buffer Pool", "WCM", "NF", "EFO", "SFO", "PFO", "SPFO"], "range": [[13, 6.5], [12, 3.5, 3, 3.5], [3.5, 6], [10.5, 3.5, 3.5, 4.5, 3.5, 4.5], [9, 4, 3, 4, 3, 4], [1, 0], [1, 0], [1, 0], [1, 0], [1, 0], [1, 0]]}, "legend": {"title": null, "symbolType": "M-3.4,0H3.4"}}
          }
        },
        {
          "mark": {"type": "point", "opacity": 0},
          "encoding": {
            "y": {"field": "v", "type": "quantitative", "scale": {"domain": [470.2, 571.3], "nice": false, "zero": false}, "axis": {"orient": "right", "title": "Storage (ac-ft)", "values": [480, 500, 520, 540, 560], "grid": false, "labelPadding": 6, "labelExpr": "datum.value == 560 ? '307224.0' : datum.value == 540 ? '155035.0' : datum.value == 520 ? '59391.0' : datum.value == 500 ? '11943.0' : '175.0'", "titleAngle": 270, "titlePadding": 46}}
          }
        }
      ],
      "resolve": {"scale": {"y": "independent"}}
    },
    {
      "width": 995,
      "height": 343,
      "title": {"text": "Reservoir Release and Inflow", "offset": 3, "anchor": "middle"},
      "encoding": {
        "x": {"field": "t", "type": "temporal", "scale": {"domain": [{"year": 2010, "month": 12, "date": 9}, {"year": 2010, "month": 12, "date": 29}]}, "axis": {"title": null, "format": "%Y-%m-%d", "labelAngle": -45, "labelFontSize": 17.5, "labelAlign": "right", "labelBaseline": "top", "labelPadding": 3, "labelOverlap": false, "labelFlush": false, "tickCount": {"interval": "day", "step": 2}, "grid": true}},
        "y": {"field": "v", "type": "quantitative", "scale": {"domain": [0, 133700], "nice": false}, "axis": {"title": "Flow (cfs)", "values": [0, 25000, 50000, 75000, 100000, 125000], "format": "d", "grid": true, "titleX": -63}}
      },
      "layer": [
        {
          "data": {"name": "inflow"},
          "mark": {"type": "area", "color": "#c9b2dd", "blend": "multiply", "interpolate": "monotone", "clip": true}
        },
        {
          "data": {"name": "flow"},
          "mark": {"type": "line", "strokeWidth": 3, "clip": true},
          "encoding": {
            "color": {"field": "series", "type": "nominal", "scale": {"domain": ["Inflow", "30,000 cfs", "WCM", "NF", "EFO", "SFO", "PFO", "SPFO"], "range": ["#c9b2dd", "#000000", "#1f77b4", "#ff7f0e", "#2ca02c", "#d62728", "#9467bd", "#8c564b"]}, "legend": {"title": null, "symbolType": "M-3.4,0H3.4", "encode": {"symbols": {"update": {"shape": {"signal": "datum.value === 'Inflow' ? 'M-3.25,-0.75H3.25V0.75H-3.25Z' : 'M-3.4,0H3.4'"}, "fill": {"signal": "datum.value === 'Inflow' ? '#c9b2dd' : 'transparent'"}}}}}},
            "strokeDash": {"field": "series", "type": "nominal", "scale": {"domain": ["Inflow", "30,000 cfs", "WCM", "NF", "EFO", "SFO", "PFO", "SPFO"], "range": [[1, 0], [13, 6.5], [1, 0], [1, 0], [1, 0], [1, 0], [1, 0], [1, 0]]}, "legend": {"title": null, "symbolType": "M-3.4,0H3.4", "encode": {"symbols": {"update": {"shape": {"signal": "datum.value === 'Inflow' ? 'M-3.25,-0.75H3.25V0.75H-3.25Z' : 'M-3.4,0H3.4'"}, "fill": {"signal": "datum.value === 'Inflow' ? '#c9b2dd' : 'transparent'"}}}}}}
          }
        }
      ]
    }
  ]
}
